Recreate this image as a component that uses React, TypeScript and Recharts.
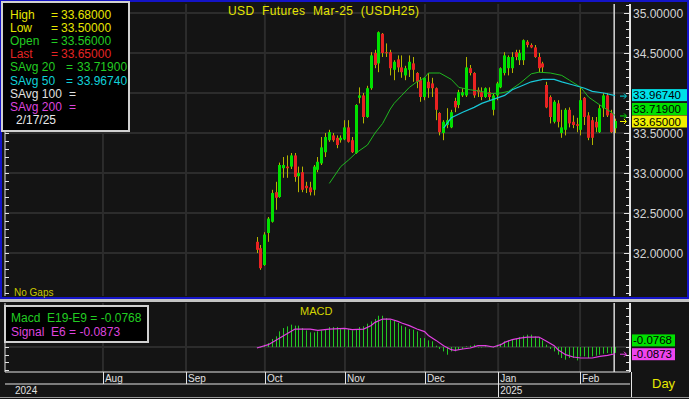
import React from "react";
import {
  Bar,
  CartesianGrid,
  ComposedChart,
  Line,
  ReferenceLine,
  XAxis,
  YAxis,
} from "recharts";

// daily OHLC, 27 Sep 2024 .. 17 Feb 2025 (index = trading day)
const opens = [
  32.14, 32.06, 31.85, 32.25, 32.39, 32.76, 32.7, 33.06, 33.08, 33.08,
  33.22, 32.96, 33.01, 32.84, 32.82, 32.79, 33.04, 33.12, 33.26, 33.41,
  33.47, 33.44, 33.41, 33.42, 33.57, 33.41, 33.25, 33.94, 33.97, 33.7,
  34.06, 34.5, 34.37, 34.74, 34.51, 34.51, 34.29, 34.42, 34.32, 34.22,
  34.29, 34.37, 34.25, 34.16, 33.95, 34.14, 34.12, 34.06, 33.75, 33.5,
  33.6, 33.57, 33.9, 33.85, 33.97, 33.97, 34.31, 34.25, 34.04, 34.01,
  33.95, 34.01, 33.79, 33.97, 34.07, 34.25, 34.31, 34.31, 34.51, 34.41,
  34.41, 34.64, 34.6, 34.57, 34.45, 34.37, 34.1, 33.95, 33.64, 33.87,
  33.5, 33.54, 33.79, 33.64, 33.61, 33.54, 33.94, 33.72, 33.66, 33.64,
  33.51, 33.81, 33.97, 33.75, 33.56,
];
const highs = [
  32.2, 32.1, 32.26, 32.45, 32.79, 32.89, 33.13, 33.2, 33.22, 33.25,
  33.25, 33.08, 33.08, 32.89, 32.89, 33.1, 33.2, 33.45, 33.5, 33.54,
  33.5, 33.47, 33.47, 33.66, 33.66, 33.45, 33.86, 34.07, 34.0, 34.09,
  34.51, 34.54, 34.77, 34.75, 34.62, 34.54, 34.41, 34.47, 34.47, 34.34,
  34.47, 34.45, 34.26, 34.2, 34.2, 34.25, 34.19, 34.07, 33.76, 33.66,
  33.81, 33.79, 33.94, 34.04, 34.06, 34.45, 34.35, 34.26, 34.07, 34.07,
  34.07, 34.07, 34.0, 34.14, 34.32, 34.51, 34.47, 34.51, 34.54, 34.54,
  34.67, 34.66, 34.62, 34.6, 34.5, 34.39, 34.14, 33.97, 33.91, 33.91,
  33.79, 33.81, 33.82, 33.72, 33.69, 34.07, 33.95, 33.76, 33.7, 33.7,
  33.85, 34.0, 34.0, 33.79, 33.68,
];
const lows = [
  32.0, 31.79, 31.84, 32.14, 32.38, 32.54, 32.69, 32.94, 32.94, 33.05,
  32.89, 32.76, 32.76, 32.75, 32.72, 32.72, 33.01, 33.1, 33.2, 33.39,
  33.39, 33.31, 33.38, 33.41, 33.38, 33.25, 33.24, 33.87, 33.62, 33.69,
  34.04, 34.31, 34.26, 34.45, 34.45, 34.22, 34.16, 34.26, 34.19, 34.16,
  34.2, 34.14, 34.06, 33.89, 33.91, 33.94, 33.95, 33.66, 33.47, 33.41,
  33.56, 33.56, 33.76, 33.81, 33.95, 33.95, 34.22, 33.94, 33.95, 33.91,
  33.94, 33.91, 33.72, 33.91, 34.06, 34.22, 34.22, 34.25, 34.41, 34.35,
  34.35, 34.57, 34.56, 34.44, 34.26, 34.26, 33.81, 33.62, 33.62, 33.57,
  33.44, 33.47, 33.57, 33.56, 33.51, 33.47, 33.6, 33.41, 33.35, 33.51,
  33.5, 33.7, 33.7, 33.5, 33.5,
];
const closes = [
  32.04, 31.81, 32.23, 32.43, 32.75, 32.69, 33.1, 33.1, 33.06, 33.22,
  32.95, 33.0, 32.79, 32.81, 32.76, 33.08, 33.14, 33.32, 33.45, 33.51,
  33.41, 33.35, 33.44, 33.57, 33.39, 33.26, 33.85, 33.97, 33.7, 34.06,
  34.47, 34.35, 34.76, 34.5, 34.5, 34.31, 34.39, 34.32, 34.26, 34.31,
  34.39, 34.29, 34.14, 33.95, 34.19, 34.06, 34.06, 33.79, 33.51, 33.64,
  33.66, 33.76, 33.82, 34.01, 34.01, 34.32, 34.25, 33.97, 34.01, 33.95,
  34.06, 33.95, 33.97, 34.12, 34.31, 34.47, 34.45, 34.45, 34.45, 34.5,
  34.66, 34.6, 34.57, 34.45, 34.31, 34.32, 33.82, 33.7, 33.89, 33.64,
  33.57, 33.79, 33.62, 33.6, 33.59, 33.91, 33.7, 33.44, 33.44, 33.57,
  33.81, 33.97, 33.72, 33.51, 33.65,
];

// simple averages at these days
const sma20Days = [19, 22, 24, 26, 29, 31, 33, 35, 36, 38, 40, 42, 44, 45, 48, 51, 53, 56, 59, 61, 64, 66, 69, 72, 74, 77, 80, 82, 85, 87, 90, 93, 94];
const sma20Values = [32.87, 33.08, 33.16, 33.25, 33.35, 33.5, 33.62, 33.8, 33.87, 33.97, 34.07, 34.14, 34.19, 34.25, 34.25, 34.17, 34.07, 34.04, 34.02, 33.99, 34.0, 34.02, 34.12, 34.24, 34.26, 34.25, 34.22, 34.16, 34.07, 33.95, 33.85, 33.76, 33.719];
const sma50Days = [49, 51, 54, 57, 59, 62, 65, 67, 70, 72, 75, 78, 80, 83, 86, 88, 91, 94];
const sma50Values = [33.56, 33.69, 33.76, 33.82, 33.87, 33.92, 33.97, 34.04, 34.1, 34.14, 34.17, 34.17, 34.14, 34.1, 34.06, 34.02, 34.0, 33.9674];

// MACD (E19-E9) per day and its E6 signal
const macdValues = [
  -0.01, 0.0, 0.03, 0.052, 0.104, 0.138, 0.203, 0.246, 0.268, 0.29,
  0.277, 0.277, 0.246, 0.216, 0.19, 0.19, 0.203, 0.216, 0.233, 0.259,
  0.259, 0.259, 0.233, 0.242, 0.233, 0.216, 0.233, 0.259, 0.268, 0.303,
  0.333, 0.363, 0.406, 0.406, 0.376, 0.355, 0.346, 0.312, 0.277, 0.259,
  0.233, 0.225, 0.203, 0.116, 0.116, 0.086, 0.074, 0.017, -0.026, -0.057,
  -0.1, -0.057, -0.057, -0.035, -0.026, 0.009, 0.017, 0.03, 0.0, 0.0,
  0.009, 0.009, 0.0, 0.03, 0.043, 0.074, 0.086, 0.104, 0.104, 0.129,
  0.147, 0.16, 0.16, 0.138, 0.129, 0.086, 0.03, -0.026, -0.057, -0.1,
  -0.143, -0.165, -0.143, -0.143, -0.174, -0.122, -0.122, -0.143, -0.122, -0.113,
  -0.1, -0.087, -0.078, -0.087, -0.0768,
];
const signalDays = [0, 3, 7, 10, 14, 16, 19, 23, 25, 28, 30, 31, 33, 35, 37, 38, 40, 42, 44, 45, 47, 49, 51, 52, 54, 56, 58, 60, 62, 64, 65, 67, 69, 71, 74, 76, 78, 79, 81, 83, 85, 88, 90, 92, 94];
const signalValues = [-0.013, 0.03, 0.147, 0.233, 0.233, 0.216, 0.233, 0.242, 0.225, 0.233, 0.28, 0.32, 0.363, 0.363, 0.333, 0.312, 0.277, 0.233, 0.2, 0.15, 0.086, 0.017, -0.035, -0.043, -0.026, -0.013, 0.017, 0.017, 0.0, 0.03, 0.06, 0.095, 0.116, 0.129, 0.129, 0.074, 0.017, -0.035, -0.1, -0.13, -0.143, -0.143, -0.122, -0.108, -0.0873];

// axis ticks (x in trading-day units)
const monthTicks = [-40.4, -18.6, 2.1, 23.1, 44.1, 63.3, 84.8];
const monthLabels = ["Aug", "Sep", "Oct", "Nov", "Dec", "Jan", "Feb"];
const yearTicks = [-66.1, 63.3];
const yearLabels = ["2024", "2025"];
const priceTicks = [32, 32.5, 33, 33.5, 34, 34.5, 35];
// 34.00000 sits under the price tags, so it carries no text
const priceLabels = [32, 32.5, 33, 33.5, 34.5, 35];

const X_DOMAIN: [number, number] = [-66.1, 97.9];
const PRICE_DOMAIN: [number, number] = [31.4625, 35.1125];
const MACD_DOMAIN: [number, number] = [-0.3247, 0.5714];
const CURSOR_DAY = 93.75;

const FONT = '"Liberation Sans", Arial, sans-serif';
const BG = "#141414";
const GRID = "#2c2c2c";
const AXIS = "#e4e4e4";

const candles = opens.map((o, i) => ({
  i,
  open: o,
  high: highs[i],
  low: lows[i],
  close: closes[i],
}));
const sma20 = sma20Days.map((d, k) => ({ i: d, v: sma20Values[k] }));
const sma50 = sma50Days.map((d, k) => ({ i: d, v: sma50Values[k] }));
const macdRows = macdValues.map((v, i) => ({ i, macd: v }));
const signal = signalDays.map((d, k) => ({ i: d, v: signalValues[k] }));

const priceMinor: number[] = [];
for (let k = 0; k <= 36; k++) priceMinor.push(Math.round((31.5 + k * 0.1) * 10) / 10);
const macdMinor: number[] = [];
for (let k = -3; k <= 5; k++) macdMinor.push(k / 10);

const Candle = (props: any) => {
  const { x, y, width, height, payload } = props;
  if (!payload || y == null) return null;
  const { open, close, high, low } = payload;
  const top = Math.min(y, y + height);
  const h = Math.abs(height);
  const k = high === low ? 0 : h / (high - low);
  const cx = Math.round(x + width / 2);
  const bTop = top + (high - Math.max(open, close)) * k;
  const bH = Math.max(1, Math.abs(open - close) * k);
  return (
    <g>
      <line x1={cx + 0.5} x2={cx + 0.5} y1={top} y2={top + h} stroke="#b4b400" />
      <rect x={cx - 1} y={bTop} width={3} height={bH} fill={close >= open ? "#00e000" : "#e82222"} />
    </g>
  );
};

const MacdBar = (props: any) => {
  const { x, y, width, height } = props;
  if (y == null) return null;
  const top = Math.min(y, y + height);
  const h = Math.abs(height);
  return <rect x={Math.round(x + width / 2)} y={top} width={1} height={Math.max(h, 0.5)} fill="#22c822" />;
};

const RightTick = (labels: number[]) => (props: any) => {
  const { x, y, payload } = props;
  const v = payload.value;
  const major = labels.includes(v);
  const yy = Math.round(y) + 0.5;
  return (
    <g>
      <line x1={x - (major ? 6 : 4)} x2={x} y1={yy} y2={yy} stroke={AXIS} />
      {major && (
        <text x={x + 3} y={y + 4.5} fill="#d4d4d4" fontSize={12} fontFamily={FONT}>
          {v.toFixed(5)}
        </text>
      )}
    </g>
  );
};

const LeftTick = (props: any) => {
  const { x, y } = props;
  const yy = Math.round(y) + 0.5;
  return <line x1={x} x2={x + 4} y1={yy} y2={yy} stroke={AXIS} />;
};

const MonthTick = (props: any) => {
  const { x, y, payload } = props;
  const idx = monthTicks.indexOf(payload.value);
  const xx = Math.round(x) + 0.5;
  return (
    <g>
      <line x1={xx} x2={xx} y1={y} y2={y + 12} stroke={AXIS} />
      <text x={x + 2} y={y + 10} fill="#e0e0e0" fontSize={10} fontFamily={FONT}>
        {monthLabels[idx]}
      </text>
    </g>
  );
};

const YearTick = (props: any) => {
  const { x, y, payload } = props;
  const idx = yearTicks.indexOf(payload.value);
  const xx = Math.round(x) + 0.5;
  return (
    <g>
      {idx > 0 && <line x1={xx} x2={xx} y1={y} y2={y + 13} stroke={AXIS} />}
      <text x={x + (idx > 0 ? 2 : 10)} y={y + 10} fill="#e0e0e0" fontSize={10} fontFamily={FONT}>
        {yearLabels[idx]}
      </text>
    </g>
  );
};

// price tag on the right axis, with the little arrow at the level
const valueTag =
  (text: string, bg: string, shift: number, boxW: number, arrow: boolean) =>
  (props: any) => {
    const vb = props.viewBox;
    if (!vb) return null;
    const right = vb.x + vb.width;
    const y = vb.y;
    return (
      <g>
        {arrow && (
          <path
            d={`M${right - 10} ${y + 0.5} h6 M${right - 6} ${y - 2} l2.5 2.5 l-2.5 2.5`}
            stroke={bg}
            fill="none"
          />
        )}
        <rect x={right + 2} y={y + shift - 6} width={boxW} height={12} fill={bg} />
        <text x={right + 3} y={y + shift + 4} fill="#000" fontSize={11.5} fontFamily={FONT}>
          {text}
        </text>
      </g>
    );
  };

const infoLabels = ["High", "Low", "Open", "Last", "SAvg 20", "SAvg 50", "SAvg 100", "SAvg 200"];
const infoValues = ["33.68000", "33.50000", "33.56000", "33.65000", "33.71900", "33.96740", "", ""];
const infoColors = ["#e6e600", "#e6e600", "#22cc22", "#e42424", "#22cc22", "#10d0d8", "#e0e0e0", "#dd44dd"];
const infoDate = "2/17/25";

function InfoBox() {
  const eqX = [50, 50, 50, 50, 65, 65, 68, 68];
  const valX = [60, 60, 60, 60, 76, 76, 0, 0];
  return (
    <div
      style={{
        position: "absolute",
        left: 1,
        top: 1,
        width: 129,
        height: 131,
        boxSizing: "border-box",
        background: "#000",
        border: "2px solid #d0d0d0",
      }}
    >
      {infoLabels.map((lab, k) => (
        <React.Fragment key={lab}>
          <span style={{ position: "absolute", left: 7, top: 6 + k * 13.1, color: infoColors[k] }}>{lab}</span>
          <span style={{ position: "absolute", left: eqX[k] - 2, top: 6 + k * 13.1, color: infoColors[k] }}>=</span>
          {infoValues[k] && (
            <span style={{ position: "absolute", left: valX[k] - 2, top: 6 + k * 13.1, color: infoColors[k] }}>
              {infoValues[k]}
            </span>
          )}
        </React.Fragment>
      ))}
      <span style={{ position: "absolute", left: 13, top: 6 + 8 * 13.1, color: "#e8e8e8" }}>{infoDate}</span>
    </div>
  );
}

function MacdBox() {
  return (
    <div
      style={{
        position: "absolute",
        left: 4,
        top: 305,
        width: 145,
        height: 38,
        boxSizing: "border-box",
        background: "#000",
        border: "2px solid #d0d0d0",
        whiteSpace: "pre",
      }}
    >
      <span style={{ position: "absolute", left: 5, top: 5, color: "#22cc22" }}>Macd  E19-E9 = -0.0768</span>
      <span style={{ position: "absolute", left: 5, top: 19, color: "#dd44dd" }}>Signal  E6 = -0.0873</span>
    </div>
  );
}

export default function App() {
  return (
    <div
      style={{
        position: "absolute",
        left: 0,
        top: 0,
        width: 689,
        height: 399,
        background: BG,
        overflow: "hidden",
        fontFamily: FONT,
        fontSize: 12,
        lineHeight: "13px",
      }}
    >
      {/* price pane */}
      <div style={{ position: "absolute", left: 0, top: 0 }}>
        <ComposedChart width={689} height={299} data={candles} margin={{ top: 4, right: 0, bottom: 3, left: 0 }}>
          <CartesianGrid
            xAxisId="x"
            yAxisId="r"
            stroke={GRID}
            strokeWidth={2}
            horizontalValues={priceTicks}
            verticalValues={monthTicks}
          />
          <XAxis xAxisId="x" dataKey="i" type="number" domain={X_DOMAIN} allowDataOverflow hide />
          <YAxis
            yAxisId="l"
            orientation="left"
            width={5}
            domain={PRICE_DOMAIN}
            allowDataOverflow
            ticks={priceMinor}
            interval={0}
            tickSize={0}
            tickMargin={0}
            tickLine={false}
            axisLine={{ stroke: AXIS }}
            tick={LeftTick}
          />
          <YAxis
            yAxisId="r"
            orientation="right"
            width={59}
            domain={PRICE_DOMAIN}
            allowDataOverflow
            ticks={priceMinor}
            interval={0}
            tickSize={0}
            tickMargin={0}
            tickLine={false}
            axisLine={{ stroke: AXIS, strokeWidth: 2 }}
            tick={RightTick(priceLabels)}
          />
          <ReferenceLine xAxisId="x" yAxisId="r" x={CURSOR_DAY} stroke="#d8d8d8" strokeWidth={1.5} />
          <Line
            xAxisId="x"
            yAxisId="r"
            data={sma20}
            dataKey="v"
            type="linear"
            stroke="#1fb81f"
            strokeWidth={1}
            dot={false}
            isAnimationActive={false}
          />
          <Line
            xAxisId="x"
            yAxisId="r"
            data={sma50}
            dataKey="v"
            type="linear"
            stroke="#18c8d8"
            strokeWidth={1.2}
            dot={false}
            isAnimationActive={false}
          />
          <Bar
            xAxisId="x"
            yAxisId="r"
            dataKey={(d: any) => [d.low, d.high]}
            barSize={3}
            shape={Candle}
            isAnimationActive={false}
          />
          <ReferenceLine
            xAxisId="x"
            yAxisId="r"
            y={33.9674}
            stroke="none"
            label={valueTag("33.96740", "#00e0e8", -0.5, 55, true)}
          />
          <ReferenceLine
            xAxisId="x"
            yAxisId="r"
            y={33.719}
            stroke="none"
            label={valueTag("33.71900", "#00e000", -6.5, 55, true)}
          />
          <ReferenceLine
            xAxisId="x"
            yAxisId="r"
            y={33.65}
            stroke="none"
            label={valueTag("33.65000", "#f0f000", 0.5, 55, true)}
          />
        </ComposedChart>
      </div>

      <div
        style={{
          position: "absolute",
          left: 0,
          top: 0,
          width: 689,
          height: 299,
          boxSizing: "border-box",
          border: "2px solid #1414c8",
        }}
      />
      <InfoBox />
      <div
        style={{ position: "absolute", left: 228, top: 5, color: "#e4e400", whiteSpace: "pre", letterSpacing: 0.4 }}
      >
        USD  Futures  Mar-25  (USDH25)
      </div>
      <div style={{ position: "absolute", left: 14, top: 286, color: "#c8c800", fontSize: 10 }}>No Gaps</div>

      <div style={{ position: "absolute", left: 0, top: 299, width: 689, height: 3, background: "#c4c4c4" }} />

      {/* MACD pane + time axis */}
      <div style={{ position: "absolute", left: 0, top: 302 }}>
        <ComposedChart width={689} height={97} data={macdRows} margin={{ top: 1, right: 0, bottom: 2, left: 0 }}>
          <CartesianGrid
            xAxisId="m"
            yAxisId="r"
            stroke={GRID}
            strokeWidth={2}
            horizontalValues={[0]}
            verticalValues={monthTicks}
          />
          <XAxis
            xAxisId="m"
            dataKey="i"
            type="number"
            domain={X_DOMAIN}
            allowDataOverflow
            ticks={monthTicks}
            interval={0}
            height={12}
            tickSize={0}
            tickMargin={0}
            tickLine={false}
            axisLine={{ stroke: AXIS }}
            tick={MonthTick}
          />
          <XAxis
            xAxisId="y"
            dataKey="i"
            type="number"
            domain={X_DOMAIN}
            allowDataOverflow
            ticks={yearTicks}
            interval={0}
            height={13}
            tickSize={0}
            tickMargin={0}
            tickLine={false}
            axisLine={{ stroke: AXIS }}
            tick={YearTick}
          />
          <YAxis
            yAxisId="l"
            orientation="left"
            width={5}
            domain={MACD_DOMAIN}
            allowDataOverflow
            ticks={macdMinor}
            interval={0}
            tickSize={0}
            tickMargin={0}
            tickLine={false}
            axisLine={{ stroke: AXIS }}
            tick={LeftTick}
          />
          <YAxis
            yAxisId="r"
            orientation="right"
            width={59}
            domain={MACD_DOMAIN}
            allowDataOverflow
            ticks={macdMinor}
            interval={0}
            tickSize={0}
            tickMargin={0}
            tickLine={false}
            axisLine={{ stroke: AXIS, strokeWidth: 2 }}
            tick={RightTick([])}
          />
          <ReferenceLine xAxisId="m" yAxisId="r" x={CURSOR_DAY} stroke="#d8d8d8" strokeWidth={1.5} />
          <Bar xAxisId="m" yAxisId="r" dataKey="macd" barSize={1} shape={MacdBar} isAnimationActive={false} />
          <Line
            xAxisId="m"
            yAxisId="r"
            data={signal}
            dataKey="v"
            type="linear"
            stroke="#e040e0"
            strokeWidth={1.2}
            dot={false}
            isAnimationActive={false}
          />
          <ReferenceLine
            xAxisId="m"
            yAxisId="r"
            y={-0.0768}
            stroke="none"
            label={valueTag("-0.0768", "#00e000", -12.5, 43, false)}
          />
          <ReferenceLine
            xAxisId="m"
            yAxisId="r"
            y={-0.0873}
            stroke="none"
            label={valueTag("-0.0873", "#ee44ee", 0.5, 43, true)}
          />
        </ComposedChart>
      </div>

      <MacdBox />
      <div style={{ position: "absolute", left: 300, top: 305, color: "#d4d400", fontSize: 11 }}>MACD</div>
      <div style={{ position: "absolute", left: 631, top: 372, width: 1, height: 25, background: AXIS }} />
      <div style={{ position: "absolute", left: 0, top: 397, width: 689, height: 1, background: "#9a9a9a" }} />
      <div style={{ position: "absolute", left: 652, top: 377, color: "#e8e800", fontSize: 13 }}>Day</div>
    </div>
  );
}
